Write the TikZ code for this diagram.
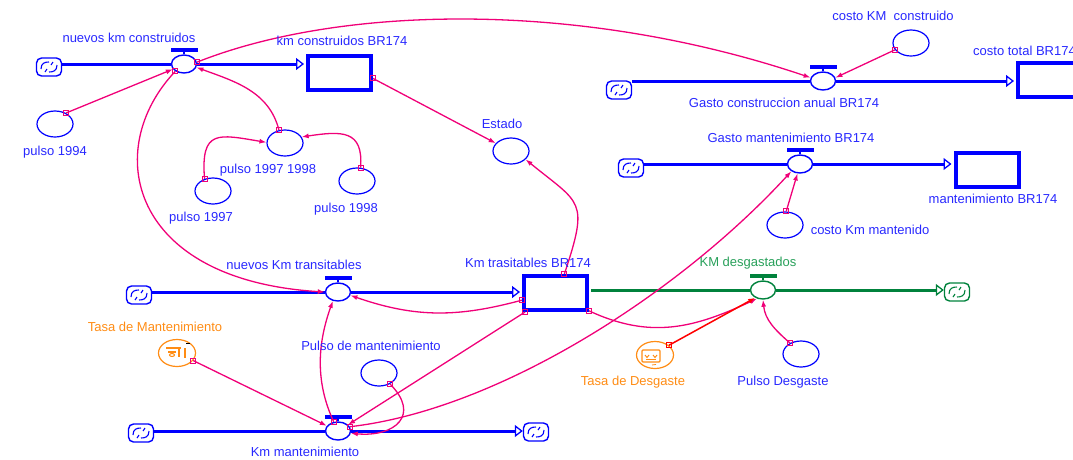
\documentclass[tikz,border=0pt]{standalone}
\usepackage{fontspec}
\setmainfont{Liberation Sans}
\usetikzlibrary{arrows.meta,shapes.geometric}
\definecolor{fblue}{RGB}{0,0,255}
\definecolor{tblue}{RGB}{40,40,255}
\definecolor{lnk}{RGB}{240,0,120}
\definecolor{fgreen}{RGB}{0,130,60}
\definecolor{tgreen}{RGB}{40,160,90}
\definecolor{orng}{RGB}{255,140,20}
\definecolor{tred}{RGB}{255,0,0}
\begin{document}
\begin{tikzpicture}[x=1pt,y=-1pt,
  every node/.style={font=\fontsize{13}{15}\selectfont},
  lbl/.style={text=tblue, inner sep=0pt},
  aux/.style={ellipse, draw=fblue, line width=1.2pt, minimum width=36pt, minimum height=26pt, inner sep=0pt},
  cst/.style={ellipse, draw=orng, line width=1.2pt, minimum width=37pt, minimum height=27pt, inner sep=0pt},
  valve/.style={ellipse, draw=#1, line width=1.4pt, minimum width=25pt, minimum height=18pt, inner sep=0pt},
  valve/.default=fblue,
  stock/.style={rectangle, draw=fblue, line width=4pt, minimum width=63pt, minimum height=34pt, inner sep=0pt},
  cloudsym/.style={rectangle, rounded corners=5pt, draw=#1, line width=1.4pt, minimum width=25pt, minimum height=18pt, inner sep=0pt,
    path picture={
      \draw[#1, line width=1.1pt] ([shift={(-8,2)}]path picture bounding box.center) .. controls +(0,-6) and +(-4,0) .. ([shift={(0,-5)}]path picture bounding box.center);
      \draw[#1, line width=1.1pt] ([shift={(8,-2)}]path picture bounding box.center) .. controls +(0,6) and +(4,0) .. ([shift={(0,5)}]path picture bounding box.center);
      \draw[#1, line width=1.1pt] ([shift={(-4,5)}]path picture bounding box.center) -- ([shift={(-2,2)}]path picture bounding box.center);
      \draw[#1, line width=1.1pt] ([shift={(4,-5)}]path picture bounding box.center) -- ([shift={(2,-2)}]path picture bounding box.center);
    }},
  cloudsym/.default=fblue,
  pipe/.style={draw=fblue, line width=3pt},
  gpipe/.style={draw=fgreen, line width=3pt},
  pipetip/.style={-{Triangle[open,length=8pt,width=12pt,line width=1.3pt]}},
  conn/.style={draw=lnk, line width=1.3pt, -{Latex[length=7pt,width=5pt]}},
  sq/.style={draw=lnk, line width=1pt, rectangle, minimum size=5pt, inner sep=0pt},
]
\useasboundingbox (0,0) rectangle (1073,459);

% ---------- clouds ----------
\node[cloudsym] (c1) at (49,67) {};
\node[cloudsym] (c2) at (619,90) {};
\node[cloudsym] (c3) at (631,168) {};
\node[cloudsym] (c4) at (139,295) {};
\node[cloudsym=fgreen] (c5) at (957,292) {};
\node[cloudsym] (c6) at (141,433) {};
\node[cloudsym] (c7) at (536,432) {};

% ---------- valves ----------
\node[valve] (v1) at (184,64) {};
\node[valve] (v2) at (823,81) {};
\node[valve] (v3) at (800,164) {};
\node[valve] (v4) at (338,292) {};
\node[valve=fgreen] (v5) at (763,290) {};
\node[valve] (v6) at (338,431) {};
\foreach \v/\c in {v1/fblue,v2/fblue,v3/fblue,v4/fblue,v5/fgreen,v6/fblue}{
  \fill[\c] ([shift={(-13.5,-6)}]\v.north) rectangle ([shift={(13.5,-2.5)}]\v.north);
  \draw[\c, line width=2pt] (\v.north) -- ([shift={(0,-3)}]\v.north);
}

% ---------- stocks ----------
\node[stock] (s1) at (339.5,72.5) {};
\node[stock] (s2) at (1049.5,80) {};
\node[stock] (s3) at (987,170) {};
\node[stock] (s4) at (555.5,293) {};

% ---------- auxiliaries ----------
\node[aux] (a1994) at (55,124) {};
\node[aux] (a9798) at (285,143) {};
\node[aux] (a97) at (213,191) {};
\node[aux] (a98) at (357,181) {};
\node[aux] (est) at (511,151) {};
\node[aux] (ck) at (911,43) {};
\node[aux] (cm) at (785,225) {};
\node[aux] (pm) at (379,373) {};
\node[aux] (pd) at (801,354) {};
\node[cst] (tm) at (177,353) {};
\node[cst] (td) at (655,355) {};

% icons in constants
\draw[orng, line width=1.2pt] (166,348) -- (181,348);
\draw[orng, line width=1.1pt] (168,352) -- (176,352);
\draw[orng, line width=1pt] (172,355) ellipse (2.5pt and 1.5pt);
\draw[orng, line width=1.1pt] (179,348) -- (179,357);
\draw[orng, line width=1.1pt] (185,348) -- (185,358);
\draw[black, line width=1pt] (186,343) -- (190,343);
\draw[orng, line width=1.1pt, rounded corners=1pt] (642,350) rectangle (660,362);
\draw[orng, line width=1pt] (645,355) -- (647,357.5) -- (649,355);
\draw[orng, line width=1pt] (653,355) -- (655,357.5) -- (657,355);
\draw[orng, line width=1pt] (646,359.5) -- (656,359.5);
\draw[orng, line width=0.8pt] (652,365) .. controls (653,363.5) and (654,366) .. (656,364.5);

% ---------- pipes ----------
\draw[pipe] (c1.east |- v1) -- (v1.west);
\draw[pipe,pipetip,shorten >=2pt] (v1.east) -- (v1 -| s1.west);
\draw[pipe] (c2.east |- v2) -- (v2.west);
\draw[pipe,pipetip,shorten >=2pt] (v2.east) -- (v2 -| s2.west);
\draw[pipe] (c3.east |- v3) -- (v3.west);
\draw[pipe,pipetip,shorten >=2pt] (v3.east) -- (v3 -| s3.west);
\draw[pipe] (c4.east |- v4) -- (v4.west);
\draw[pipe,pipetip,shorten >=2pt] (v4.east) -- (v4 -| s4.west);
\draw[gpipe,shorten <=2pt] (s4.east |- v5) -- (v5.west);
\draw[gpipe,pipetip] (v5.east) -- (v5 -| c5.west);
\draw[pipe] (c6.east |- v6) -- (v6.west);
\draw[pipe,pipetip] (v6.east) -- (v6 -| c7.west);

% ---------- connectors ----------
\draw[conn] (a1994.45) node[sq]{} -- (v1.205);
\draw[conn] (a9798.115) node[sq]{} .. controls +(-10,-39) and +(38,14) .. (v1.-15);
\draw[conn] (a97.125) node[sq]{} .. controls +(-4,-50) and +(-48,-8) .. (a9798.178);
\draw[conn] (a98.75) node[sq]{} .. controls +(3,-38) and +(40,-6) .. (a9798.20);
\draw[conn] (v1.8) node[sq]{} .. controls +(143,-57) and +(-231,-78) .. (v2.165);
\draw[conn] (s1.-10) node[sq]{} -- (est.153);
\draw[conn] (s4.65) node[sq]{} .. controls +(25,-75) and +(55,45) .. (est.-30);
\draw[conn] (v1.220) node[sq]{} .. controls +(-74,78) and +(-196,-12) .. (v4.180);
\draw[conn] (s4.192) node[sq]{} .. controls +(-63,17) and +(66,23) .. (v4.-15);
\draw[conn] (v6.115) node[sq]{} .. controls +(-19,-41) and +(-15,42) .. (v4.240);
\draw[conn] (tm.-25) node[sq]{} -- (v6.155);
\draw[conn] (pm.-45) node[sq]{} .. controls +(31,31) and +(44,4) .. (v6.-10);
\draw[conn] (s4.212) node[sq]{} -- (v6.32);
\draw[conn] (v6.20) node[sq]{} .. controls +(150,-17) and +(-110,120) .. (v3.220);
\draw[conn] (cm.85) node[sq]{} -- (v3.255);
\draw[conn] (ck.203) node[sq]{} -- (v2.15);
\draw[conn] (s4.-28) node[sq]{} .. controls +(62,29) and +(-62,29) .. (v5.235);
\draw[conn,draw=tred,line width=1.5pt] (td.35) node[sq,draw=tred]{} -- (v5.225);
\draw[conn] (pd.135) node[sq]{} .. controls +(-15,-13) and +(2,20) .. (v5.270);

% ---------- labels ----------
\node[lbl] (l-v1) at (129,38) {nuevos km construidos};
\node[lbl] (l-s1) at (342,41) {km construidos BR174};
\node[lbl] (l-a1994) at (55,152) {pulso 1994};
\node[lbl] (l-a9798) at (268,170) {pulso 1997 1998};
\node[lbl] (l-a97) at (201,218) {pulso 1997};
\node[lbl] (l-a98) at (346,209) {pulso 1998};
\node[lbl] (l-est) at (502,124) {Estado};
\node[lbl] (l-ck) at (893,16) {costo KM~ construido};
\node[lbl,anchor=west] (l-s2) at (973,51) {costo total BR174};
\node[lbl] (l-v2) at (784,103) {Gasto construccion anual BR174};
\node[lbl] (l-v3) at (791,138) {Gasto mantenimiento BR174};
\node[lbl] (l-s3) at (993,199) {mantenimiento BR174};
\node[lbl] (l-cm) at (870,230) {costo Km mantenido};
\node[lbl] (l-v4) at (294,265) {nuevos Km transitables};
\node[lbl] (l-s4) at (528,263) {Km trasitables BR174};
\node[lbl,text=tgreen] (l-v5) at (748,263) {KM desgastados};
\node[lbl,text=orng] (l-tm) at (155,327) {Tasa de Mantenimiento};
\node[lbl] (l-pm) at (371,346) {Pulso de mantenimiento};
\node[lbl,text=orng] (l-td) at (633,382) {Tasa de Desgaste};
\node[lbl] (l-pd) at (783,382) {Pulso Desgaste};
\node[lbl] (l-v6) at (305,452) {Km mantenimiento};
\end{tikzpicture}
\end{document}
